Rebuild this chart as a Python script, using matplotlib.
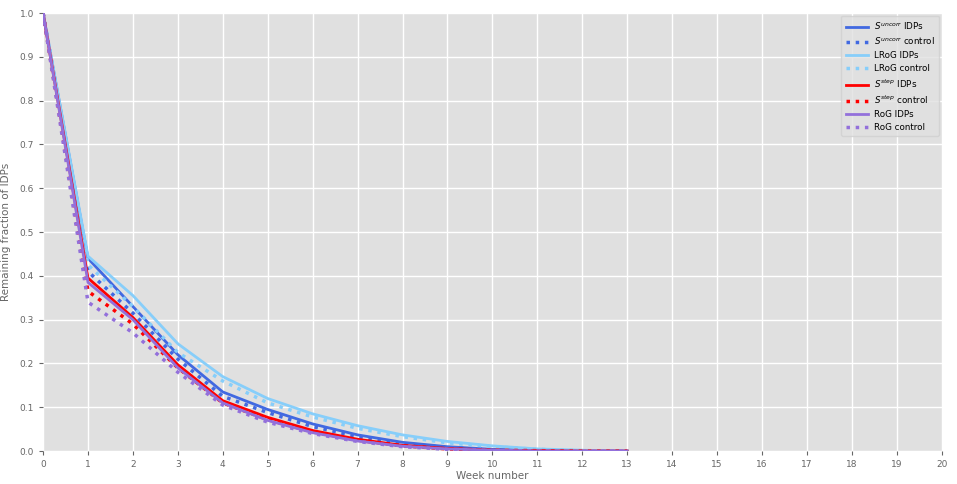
import numpy as np
import matplotlib
matplotlib.use("Agg")
import matplotlib.pyplot as plt

weeks = np.arange(0, 14)

# remaining fraction per week
uncorr_idps = [1.0, 0.44, 0.33, 0.22, 0.135, 0.095, 0.062, 0.037, 0.02, 0.01, 0.004, 0.002, 0.001, 0.0]
uncorr_ctrl = [1.0, 0.41, 0.315, 0.21, 0.125, 0.088, 0.056, 0.033, 0.017, 0.008, 0.003, 0.001, 0.0, 0.0]
lrog_idps = [1.0, 0.445, 0.355, 0.245, 0.17, 0.12, 0.085, 0.058, 0.037, 0.022, 0.012, 0.005, 0.002, 0.0]
lrog_ctrl = [1.0, 0.425, 0.33, 0.225, 0.16, 0.11, 0.078, 0.052, 0.033, 0.019, 0.01, 0.004, 0.001, 0.0]
step_idps = [1.0, 0.395, 0.305, 0.197, 0.115, 0.077, 0.047, 0.027, 0.013, 0.006, 0.002, 0.001, 0.0, 0.0]
step_ctrl = [1.0, 0.365, 0.29, 0.19, 0.11, 0.072, 0.044, 0.025, 0.012, 0.005, 0.002, 0.001, 0.0, 0.0]
rog_idps = [1.0, 0.385, 0.3, 0.19, 0.11, 0.07, 0.042, 0.023, 0.011, 0.005, 0.002, 0.0, 0.0, 0.0]
rog_ctrl = [1.0, 0.34, 0.27, 0.18, 0.105, 0.066, 0.04, 0.022, 0.01, 0.004, 0.001, 0.0, 0.0, 0.0]

series = [
    (uncorr_idps, "-", "royalblue", r"$S^{uncorr}$ IDPs"),
    (uncorr_ctrl, ":", "royalblue", r"$S^{uncorr}$ control"),
    (lrog_idps, "-", "lightskyblue", "LRoG IDPs"),
    (lrog_ctrl, ":", "lightskyblue", "LRoG control"),
    (step_idps, "-", "red", r"$S^{step}$ IDPs"),
    (step_ctrl, ":", "red", r"$S^{step}$ control"),
    (rog_idps, "-", "mediumpurple", "RoG IDPs"),
    (rog_ctrl, ":", "mediumpurple", "RoG control"),
]

plt.rcParams["font.family"] = "DejaVu Sans"
fig = plt.figure(figsize=(9.57, 4.84), dpi=100)
ax = fig.add_axes([0.045, 0.068, 0.939, 0.905])
ax.set_facecolor("#E0E0E0")
ax.grid(True, color="white", linewidth=1.0)
ax.set_axisbelow(True)
for s in ax.spines.values():
    s.set_visible(False)

for vals, ls, col, lab in series:
    lw = 2.0 if ls == "-" else 2.5
    ax.plot(weeks, vals, linestyle=ls, color=col, linewidth=lw, label=lab)

ax.set_xlim(0, 20)
ax.set_ylim(0, 1.0)
ax.set_xticks(np.arange(0, 21))
ax.set_yticks(np.arange(0, 1.01, 0.1))
ax.set_yticklabels([f"{v:.1f}" for v in np.arange(0, 1.01, 0.1)])
ax.tick_params(labelsize=6.5, colors="#666666", length=3, direction="out")
ax.set_xlabel("Week number", fontsize=7.5, color="#666666", labelpad=1)
ax.set_ylabel("Remaining fraction of IDPs", fontsize=7.5, color="#666666", labelpad=6)

leg = ax.legend(loc="upper right", fontsize=6.3, frameon=True, handlelength=2.6,
                labelspacing=0.45, borderpad=0.5, handletextpad=0.6,
                borderaxespad=0.3)
leg.get_frame().set_facecolor("#E0E0E0")
leg.get_frame().set_edgecolor("#D0D0D0")

fig.savefig("out.png", dpi=100)
